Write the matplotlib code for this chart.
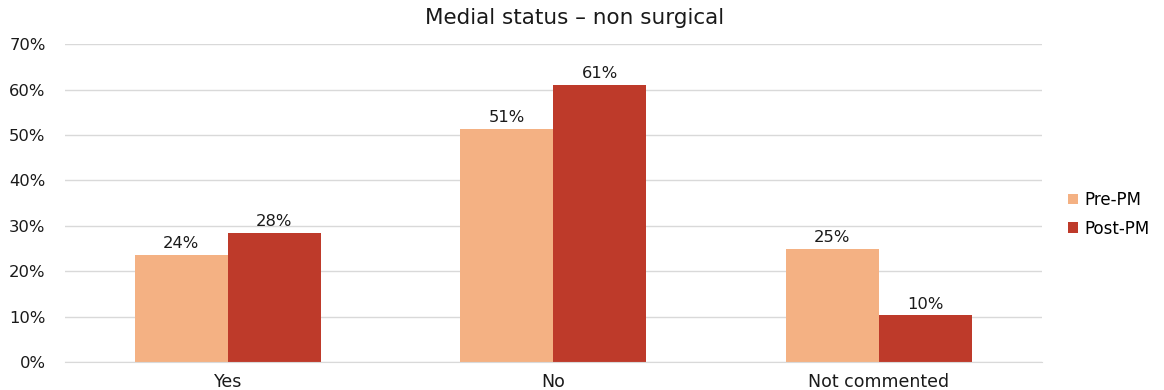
import numpy as np
import matplotlib.pyplot as plt
from matplotlib.ticker import PercentFormatter

plt.rcParams['font.family'] = ['DejaVu Sans']

# Medial status, non surgical: share of cases before/after PM
categories = ['Yes', 'No', 'Not commented']
pre_pm = [0.236, 0.513, 0.249]
post_pm = [0.284, 0.611, 0.103]
series_names = ['Pre-PM', 'Post-PM']
colors = ['#F4B183', '#BE3A2A']
txt = '#1a1a1a'

fig = plt.figure(figsize=(11.64, 3.9), dpi=100)
ax = fig.add_axes([0.0558, 0.0718, 0.839, 0.815])

x = np.arange(len(categories))
w = 0.286
b1 = ax.bar(x - w / 2, pre_pm, w, color=colors[0], label=series_names[0])
b2 = ax.bar(x + w / 2, post_pm, w, color=colors[1], label=series_names[1])

for bars in (b1, b2):
    for rect in bars:
        v = rect.get_height()
        ax.text(rect.get_x() + rect.get_width() / 2, v + 0.008, f'{v:.0%}',
                ha='center', va='bottom', fontsize=11.8, color=txt)

ax.set_xlim(-0.5, len(categories) - 0.5)
ax.set_ylim(0, 0.7)
ax.set_yticks(np.arange(0, 0.71, 0.1))
ax.yaxis.set_major_formatter(PercentFormatter(1.0, decimals=0))
ax.set_xticks(x)
ax.set_xticklabels(categories)
ax.tick_params(axis='both', length=0, labelsize=11.8, colors=txt)
ax.tick_params(axis='y', pad=14)
ax.tick_params(axis='x', pad=8)
for lab in ax.get_xticklabels():
    lab.set_fontsize(12.5)

ax.grid(axis='y', color='#d9d9d9', linewidth=1)
ax.set_axisbelow(True)
for s in ('top', 'right', 'left'):
    ax.spines[s].set_visible(False)
ax.spines['bottom'].set_color('#d9d9d9')

fig.text(0.494, 1 - 18 / 390, 'Medial status – non surgical', fontsize=15.5,
         color=txt, ha='center', va='center')

ax.legend(loc='center left', bbox_to_anchor=(1.012, 0.465), frameon=False,
          fontsize=12, handlelength=0.6, handleheight=0.6, handletextpad=0.35,
          labelspacing=0.65)

fig.savefig('out.png', dpi=100)
